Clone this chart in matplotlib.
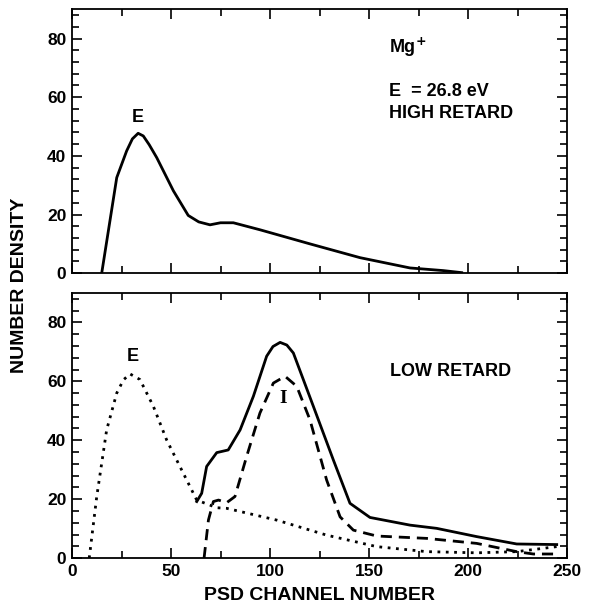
import matplotlib
matplotlib.use('Agg')
import matplotlib.pyplot as plt
from matplotlib.ticker import MultipleLocator

# top panel: high retard
high_x = [15, 22.6, 27.6, 30.5, 33.4, 36, 39, 42.8, 51.2, 58.7, 64, 69.7, 75, 81.5, 95, 120.2, 145.5, 170.7, 187.5, 196.8]
high_y = [0, 32.6, 41.7, 45.8, 47.7, 46.8, 43.8, 39.4, 28.1, 19.7, 17.5, 16.5, 17.2, 17.2, 14.8, 10, 5.3, 1.8, 0.9, 0.2]

# bottom panel: low retard
e_x = [8.7, 12.5, 17.5, 22.6, 26, 29.3, 34.3, 41.1, 47.8, 54.5, 63, 73.1, 78.1, 103.4, 128.6, 153.9, 179.1, 204.4, 224.6, 244.8]
e_y = [0, 20.9, 43.5, 56, 60.5, 62.5, 60.6, 51.5, 40.1, 31.1, 19.7, 17.1, 16.9, 12.9, 7.8, 3.9, 2.2, 1.8, 2.2, 3.9]

tot_x = [63, 65.5, 68, 73.1, 78.9, 84.9, 91.6, 98.3, 101.5, 105.1, 108.5, 111.8, 121.9, 132, 140.4, 150.5, 170.7, 184.2, 204.4, 224.6, 244.8]
tot_y = [19.2, 22, 31.1, 35.8, 36.7, 43.5, 54.9, 68.5, 71.8, 73.2, 72.3, 69.6, 51.5, 33.3, 18.6, 13.8, 11.2, 10.1, 7.3, 4.8, 4.6]

ion_x = [66.7, 68.9, 71.4, 74, 78.1, 82.3, 88.2, 94.9, 101.7, 107.6, 113.5, 120.2, 128.6, 135.4, 142.1, 153.9, 179.1, 204.4, 224.6, 233, 244.8]
ion_y = [0, 12.9, 19.2, 19.7, 18.8, 20.9, 34.5, 49.2, 59.4, 61.7, 58.3, 46.9, 26.5, 14, 9.5, 7.5, 6.7, 5, 2.2, 1.4, 1.4]

xticks = [0, 50, 100, 150, 200, 250]
yticks = [0, 20, 40, 60, 80]

plt.rcParams['font.family'] = ['Liberation Sans', 'DejaVu Sans']
plt.rcParams['font.weight'] = 'bold'

fig = plt.figure(figsize=(6, 6.14), dpi=100)
ax1 = fig.add_axes([0.12, 0.555, 0.825, 0.43])
ax2 = fig.add_axes([0.12, 0.091, 0.825, 0.432])


def style(ax, show_x):
    ax.set_xlim(0, 250)
    ax.set_ylim(0, 90)
    ax.set_xticks(xticks)
    ax.set_yticks(yticks)
    ax.xaxis.set_minor_locator(MultipleLocator(25))
    ax.yaxis.set_minor_locator(MultipleLocator(4))
    ax.tick_params(which='both', direction='in', top=True, right=True, width=1.2)
    ax.tick_params(which='major', length=7.5, labelsize=12.5, pad=4)
    ax.tick_params(which='minor', length=5)
    for s in ax.spines.values():
        s.set_linewidth(1.3)
    if not show_x:
        ax.set_xticklabels([])
    for lab in ax.get_xticklabels() + ax.get_yticklabels():
        lab.set_fontweight('bold')


style(ax1, False)
style(ax2, True)

fs = 13
ax1.plot(high_x, high_y, color='black', lw=2)
ax1.text(33.4, 53, 'E', ha='center', va='center', fontsize=fs, fontweight='bold')
ax1.text(160, 77, 'Mg$^{\\mathbf{+}}$', ha='left', va='center', fontsize=fs, fontweight='bold')
ax1.text(160, 62, 'E  = 26.8 eV', ha='left', va='center', fontsize=fs, fontweight='bold')
ax1.text(160, 54.5, 'HIGH RETARD', ha='left', va='center', fontsize=fs, fontweight='bold')

ax2.plot(e_x, e_y, color='black', lw=2, linestyle=(0, (1, 2)))
ax2.plot(tot_x, tot_y, color='black', lw=2)
ax2.plot(ion_x, ion_y, color='black', lw=2, linestyle=(0, (4, 2.5)))
ax2.text(30.7, 68.3, 'E', ha='center', va='center', fontsize=fs, fontweight='bold')
ax2.text(106.7, 54, 'I', ha='center', va='center', fontsize=14, fontweight='bold', family='Liberation Serif')
ax2.text(160.5, 63.4, 'LOW RETARD', ha='left', va='center', fontsize=fs, fontweight='bold')

ax2.set_xlabel('PSD CHANNEL NUMBER', fontsize=14, fontweight='bold', labelpad=6)
fig.text(0.032, 0.536, 'NUMBER DENSITY', rotation=90, ha='center', va='center', fontsize=14, fontweight='bold')

fig.savefig('out.png', dpi=100)
